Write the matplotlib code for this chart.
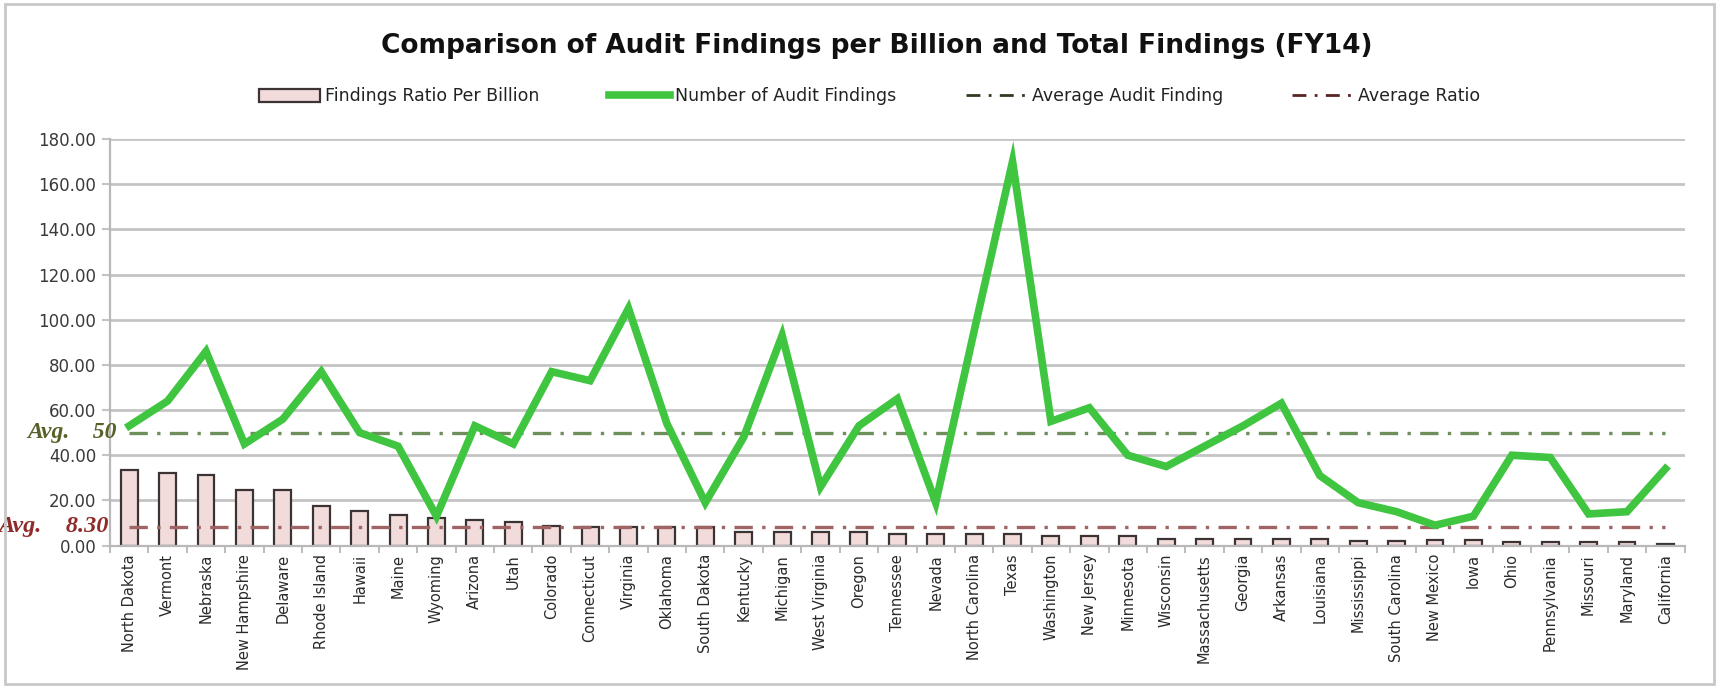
import matplotlib

matplotlib.use("Agg")
import matplotlib.pyplot as plt
from matplotlib.lines import Line2D
from matplotlib.patches import Patch, Rectangle
import numpy as np

STATES = [
    "North Dakota", "Vermont", "Nebraska", "New Hampshire", "Delaware",
    "Rhode Island", "Hawaii", "Maine", "Wyoming", "Arizona", "Utah",
    "Colorado", "Connecticut", "Virginia", "Oklahoma", "South Dakota",
    "Kentucky", "Michigan", "West Virginia", "Oregon", "Tennessee", "Nevada",
    "North Carolina", "Texas", "Washington", "New Jersey", "Minnesota",
    "Wisconsin", "Massachusetts", "Georgia", "Arkansas", "Louisiana",
    "Mississippi", "South Carolina", "New Mexico", "Iowa", "Ohio",
    "Pennsylvania", "Missouri", "Maryland", "California",
]

# findings ratio per billion (bars)
RATIO = [
    33.5, 32.0, 31.3, 24.6, 24.6, 17.6, 15.3, 13.4, 12.1, 11.2, 10.5,
    8.7, 8.4, 8.4, 8.4, 8.4, 5.8, 5.8, 5.8, 5.8, 5.2, 5.2,
    5.2, 5.2, 4.2, 4.2, 4.3, 2.8, 2.8, 2.8, 2.8, 2.8,
    2.1, 2.1, 2.4, 2.4, 1.7, 1.7, 1.7, 1.7, 0.8,
]

# number of audit findings (line)
FINDINGS = [
    53, 64, 86, 45, 56, 77, 50, 44, 13, 53, 45,
    77, 73, 105, 54, 19, 48, 93, 26, 53, 65, 19,
    95, 170, 55, 61, 40, 35, 44, 53, 63, 31,
    19, 15, 9, 13, 40, 39, 14, 15, 34,
]

AVG_FINDING = 50
AVG_RATIO = 8.30

YTICKS = [0, 20, 40, 60, 80, 100, 120, 140, 160, 180]


def main() -> None:
    fig = plt.figure(figsize=(17.19, 6.88), dpi=100)
    fig.patch.set_facecolor("white")
    fig.add_artist(Rectangle((0.003, 0.006), 0.994, 0.988, transform=fig.transFigure,
                             fill=False, edgecolor="#c8c8c8", linewidth=2.0))

    ax = fig.add_axes([0.064, 0.207, 0.916, 0.591])
    x = np.arange(len(STATES))

    ax.set_axisbelow(True)
    ax.grid(axis="y", color="#c4c4c4", linewidth=2.0)

    ax.bar(x, RATIO, width=0.44, color="#f2dcdb", edgecolor="#3c3434",
           linewidth=1.6, zorder=2)
    ax.plot([x[0], x[-1]], [AVG_RATIO, AVG_RATIO], color="#a06464",
            linewidth=2.4, linestyle=(0, (5.5, 2.8, 1, 2.8)), zorder=3)
    ax.plot([x[0], x[-1]], [AVG_FINDING, AVG_FINDING], color="#6e8f5c",
            linewidth=2.4, linestyle=(0, (5.5, 2.8, 1, 2.8)), zorder=3)
    ax.plot(x, FINDINGS, color="#3fc53f", linewidth=5.5, solid_joinstyle="miter",
            zorder=4)

    ax.set_xlim(-0.5, len(STATES) - 0.5)
    ax.set_ylim(0, 180)
    ax.set_yticks(YTICKS, [f"{v:.2f}" for v in YTICKS])
    ax.set_xticks(x, STATES, rotation=90)
    ax.set_xticks(np.arange(len(STATES) + 1) - 0.5, minor=True)
    ax.tick_params(axis="x", which="major", length=0, pad=6, labelsize=10.5,
                   labelcolor="#2a2a2a")
    ax.tick_params(axis="x", which="minor", length=5, width=1.2, color="#b0b0b0")
    ax.tick_params(axis="y", length=6, width=1.5, color="#c4c4c4", pad=4,
                   labelsize=12, labelcolor="#3a3a3a")
    for side in ["top", "right"]:
        ax.spines[side].set_visible(False)
    ax.spines["left"].set_color("#b8b8b8")
    ax.spines["left"].set_linewidth(1.6)
    ax.spines["bottom"].set_color("#b8b8b8")
    ax.spines["bottom"].set_linewidth(1.6)

    serif = ["Liberation Serif", "DejaVu Serif"]
    ax.text(0.0045, AVG_FINDING, "Avg.    50", transform=ax.get_yaxis_transform(),
            ha="right", va="center", fontsize=17, fontweight="bold", fontstyle="italic",
            family=serif, color="#56622a", zorder=5, clip_on=False)
    ax.text(-0.001, AVG_RATIO, "Avg.    8.30", transform=ax.get_yaxis_transform(),
            ha="right", va="center", fontsize=17.5, fontweight="bold", fontstyle="italic",
            family=serif, color="#8e2b2b", zorder=5, clip_on=False)

    fig.text(0.51, 0.933, "Comparison of Audit Findings per Billion and Total Findings (FY14)",
             ha="center", va="center", fontsize=19, fontweight="bold", color="#111111")

    handles = [
        Patch(facecolor="#f2dcdb", edgecolor="#3c3434", linewidth=1.6),
        Line2D([], [], color="#3fc53f", linewidth=5.5),
        Line2D([], [], color="#2f3a22", linewidth=2.0, linestyle=(0, (5, 3, 1, 3))),
        Line2D([], [], color="#5a2424", linewidth=2.0, linestyle=(0, (5, 3, 1, 3))),
    ]
    labels = ["Findings Ratio Per Billion", "Number of Audit Findings",
              "Average Audit Finding", "Average Ratio"]
    fig.legend(handles, labels, loc="center", bbox_to_anchor=(0.506, 0.86), ncol=4,
               frameon=False, fontsize=12.5, handlelength=3.5, handleheight=0.8,
               handletextpad=0.3, columnspacing=4.0, labelcolor="#222222")

    fig.savefig("out.png", dpi=100, facecolor="white")
    plt.close(fig)


if __name__ == "__main__":
    main()
